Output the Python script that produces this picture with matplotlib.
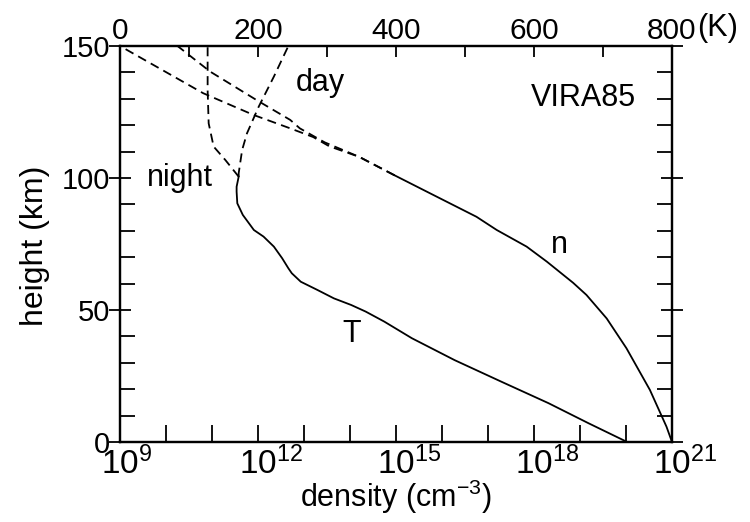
import numpy as np
import matplotlib
matplotlib.use("Agg")
import matplotlib.pyplot as plt

plt.rcParams['font.family'] = ['Liberation Sans', 'DejaVu Sans']
plt.rcParams['mathtext.fontset'] = 'custom'
plt.rcParams['mathtext.rm'] = 'Liberation Sans'
plt.rcParams['mathtext.it'] = 'Liberation Sans:italic'
plt.rcParams['mathtext.bf'] = 'Liberation Sans:bold'

# ---- data ----
# number density n (log10 cm^-3), solid part below ~100 km
n_height = [0, 5.8, 19.7, 35.5, 46.8, 55.7, 60.3, 68.3, 74, 80.3, 85.3, 94.2, 101]
n_log = [21.0, 20.88, 20.52, 20.01, 19.58, 19.14, 18.85, 18.28, 17.84, 17.19, 16.75, 15.74, 14.97]
# dashed density profiles above 100 km (day / night)
nday_height = [101, 108, 113.5, 118.8, 122, 129.5, 140.3, 150]
nday_log = [14.97, 14.2, 13.45, 12.91, 12.7, 11.97, 10.96, 10.25]
nnight_height = [101, 108, 112, 115.5, 118.8, 123.9, 132.1, 150]
nnight_log = [14.97, 14.2, 13.55, 13.2, 12.7, 11.9, 10.81, 9.0]

# temperature T (K), solid part below ~100 km
T_height = [0, 7.1, 14.7, 22.8, 31, 39.3, 45.6, 49.4, 51.9, 54.4, 57.6, 60.7,
            63.9, 65.8, 69.6, 74, 77.8, 80.3, 86, 90.4, 94.8, 96.7, 100.5]
T_vals = [735, 679, 621, 553, 485, 423, 383, 356, 335, 310, 286, 262,
          249, 244, 235, 223, 208, 194, 178, 170, 169, 169, 172]
# dashed temperature profiles above 100 km
Tday_height = [100.5, 101.8, 110.6, 116.9, 127, 138.4, 150]
Tday_vals = [172, 172, 177, 184, 201, 223, 244]
Tnight_height = [100.5, 106.8, 111.9, 120.7, 133.3, 150]
Tnight_vals = [172, 152.7, 135.7, 128.5, 127, 127]

n_ticks_exp = list(range(9, 22))
n_label_exp = [9, 12, 15, 18, 21]
T_ticks = [0, 100, 200, 300, 400, 500, 600, 700, 800]
T_labels = ['0', '', '200', '', '400', '', '600', '', '800']
h_major = [0, 50, 100, 150]
h_minor = [10, 20, 30, 40, 60, 70, 80, 90, 110, 120, 130, 140]

fig = plt.figure(figsize=(7.5, 5.22), dpi=100)
ax = fig.add_axes([0.16, 0.1533, 0.736, 0.7586])
ax2 = ax.twiny()

lw = 1.3
dash = (5, 3)
ax.plot(10 ** np.array(n_log), n_height, color='black', lw=lw)
ax.plot(10 ** np.array(nday_log), nday_height, color='black', lw=lw, dashes=dash)
ax.plot(10 ** np.array(nnight_log), nnight_height, color='black', lw=lw, dashes=dash)

ax2.plot(T_vals, T_height, color='black', lw=lw)
ax2.plot(Tday_vals, Tday_height, color='black', lw=lw, dashes=dash)
ax2.plot(Tnight_vals, Tnight_height, color='black', lw=lw, dashes=dash)

ax.set_xscale('log')
ax.set_xlim(1e9, 1e21)
ax.set_ylim(0, 150)
ax2.set_xlim(0, 800)

# bottom ticks every decade; labels drawn so that the "10" is centred on the tick
ax.set_xticks([10.0 ** e for e in n_ticks_exp])
ax.set_xticklabels(['' for e in n_ticks_exp])
ax.xaxis.set_minor_locator(matplotlib.ticker.NullLocator())
ax.tick_params(axis='x', which='major', direction='in', length=12, width=1.3)
xlab_size = 24
half_ten = 0.556 * xlab_size  # half width of "10" in points
for e in n_label_exp:
    ax.annotate(r'$10^{%d}$' % e, xy=(10.0 ** e, 0), xycoords=('data', 'axes fraction'),
                xytext=(-half_ten, -3), textcoords='offset points',
                ha='left', va='top', fontsize=xlab_size, annotation_clip=False)

ax.set_yticks(h_major)
ax.set_yticklabels([str(v) for v in h_major])
ax.set_yticks(h_minor, minor=True)
ax.tick_params(axis='y', which='major', direction='inout', length=16, width=1.3,
               labelsize=21, pad=-1)
ax.tick_params(axis='y', which='minor', direction='in', length=11, width=1.3,
               right=True, left=True)
ax.tick_params(axis='y', which='major', right=True)

ax2.set_xticks(T_ticks)
ax2.set_xticklabels(T_labels)
ax2.tick_params(axis='x', which='major', direction='in', length=8, width=1.3,
                labelsize=21.5, pad=1)

for a in (ax, ax2):
    for s in a.spines.values():
        s.set_linewidth(1.6)

ax.set_xlabel(r'density (cm$^{-3}$)', fontsize=22)
ax.set_ylabel('height (km)', fontsize=23)
ax.xaxis.set_label_coords(0.5, -0.139)
ax.xaxis.label.set_va('center')
ax.yaxis.set_label_coords(-0.154, 0.495)
ax.yaxis.label.set_va('center')

ax.text(0.362, 0.906, 'day', transform=ax.transAxes, fontsize=22, ha='center', va='center')
ax.text(0.108, 0.666, 'night', transform=ax.transAxes, fontsize=22, ha='center', va='center')
ax.text(0.839, 0.868, 'VIRA85', transform=ax.transAxes, fontsize=22, ha='center', va='center')
ax.text(0.797, 0.497, 'n', transform=ax.transAxes, fontsize=22, ha='center', va='center')
ax.text(0.419, 0.272, 'T', transform=ax.transAxes, fontsize=22, ha='center', va='center')
fig.text(697 / 750, 1 - 28 / 522, '(K)', fontsize=22, ha='left', va='center')

fig.savefig('out.png', dpi=100)
